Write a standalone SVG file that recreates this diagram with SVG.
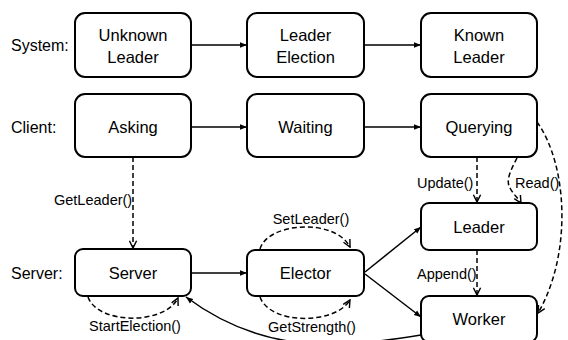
<svg xmlns="http://www.w3.org/2000/svg" width="568" height="340" viewBox="0 0 568 340">
<style>
.box{fill:#fff;stroke:#000;stroke-width:2}
.t{font-family:"Liberation Sans",Arial,sans-serif;font-size:16.5px;fill:#000}
.side{font-family:"Liberation Sans",Arial,sans-serif;font-size:16px;fill:#000}
.l{font-family:"Liberation Sans",Arial,sans-serif;font-size:14.5px;fill:#000}
.m{text-anchor:middle}
.s{fill:none;stroke:#000;stroke-width:1.5}
.d{fill:none;stroke:#000;stroke-width:1.5;stroke-dasharray:5,3}
</style>
<defs>
<marker id="tri" viewBox="0 0 10 10" refX="10" refY="5" markerWidth="7" markerHeight="7" markerUnits="userSpaceOnUse" orient="auto">
<path d="M0,1 L10,5 L0,9 z" fill="#000"/>
</marker>
<marker id="vee" viewBox="0 0 10 10" refX="9" refY="5" markerWidth="9" markerHeight="9" markerUnits="userSpaceOnUse" orient="auto">
<path d="M1,1 L9,5 L1,9" fill="none" stroke="#000" stroke-width="1.6"/>
</marker>
</defs>
<rect width="568" height="340" fill="#fff"/>
<g id="labels">
<text class="side" x="11" y="51">System:</text>
<text class="side" x="11" y="133">Client:</text>
<text class="side" x="11" y="279">Server:</text>
</g>
<g id="connectors">
<line class="s" x1="191" y1="45" x2="247" y2="45" marker-end="url(#tri)"/>
<line class="s" x1="364" y1="45" x2="421" y2="45" marker-end="url(#tri)"/>
<line class="s" x1="191" y1="127" x2="247" y2="127" marker-end="url(#tri)"/>
<line class="s" x1="364" y1="127" x2="421" y2="127" marker-end="url(#tri)"/>
<line class="s" x1="191" y1="273" x2="247" y2="273" marker-end="url(#tri)"/>
<line class="s" x1="365" y1="272" x2="421" y2="227" marker-end="url(#tri)"/>
<line class="s" x1="365" y1="274" x2="421" y2="317" marker-end="url(#tri)"/>
<path class="s" d="M421,335 C330,350 260,352 186,297" marker-end="url(#tri)"/>
<line class="d" x1="133" y1="157" x2="133" y2="248" marker-end="url(#vee)"/>
<line class="d" x1="477" y1="157" x2="477" y2="202" marker-end="url(#vee)"/>
<path class="d" d="M517,158 C512,168 505,180 510,188 C513,194 518,198 521,203" marker-end="url(#vee)"/>
<line class="d" x1="477" y1="250" x2="477" y2="295" marker-end="url(#vee)"/>
<path class="d" d="M537,122 C568,165 572,255 538,313" marker-end="url(#vee)"/>
<path class="d" d="M260,249 C268,222 335,218 350,247" marker-end="url(#vee)"/>
<path class="d" d="M260,297 C270,325 335,325 350,300" marker-end="url(#vee)"/>
<path class="d" d="M88,297 C98,325 165,325 178,298" marker-end="url(#vee)"/>
<text class="l" x="54" y="205">GetLeader()</text>
<text class="l" x="417" y="188">Update()</text>
<text class="l" x="515" y="188">Read()</text>
<text class="l" x="417" y="279">Append()</text>
<text class="l m" x="311" y="224">SetLeader()</text>
<text class="l m" x="312" y="332">GetStrength()</text>
<text class="l m" x="135" y="331">StartElection()</text>
</g>
<g id="unknown-leader"><rect class="box" x="75" y="13" width="116" height="64" rx="10"/><text class="t m" x="133" y="41">Unknown</text><text class="t m" x="133" y="63">Leader</text></g>
<g id="leader-election"><rect class="box" x="247" y="13" width="117" height="64" rx="10"/><text class="t m" x="305.5" y="41">Leader</text><text class="t m" x="305.5" y="63">Election</text></g>
<g id="known-leader"><rect class="box" x="421" y="13" width="116" height="64" rx="10"/><text class="t m" x="479" y="41">Known</text><text class="t m" x="479" y="63">Leader</text></g>
<g id="asking"><rect class="box" x="75" y="94" width="116" height="63" rx="10"/><text class="t m" x="133" y="133">Asking</text></g>
<g id="waiting"><rect class="box" x="247" y="94" width="117" height="63" rx="10"/><text class="t m" x="305.5" y="133">Waiting</text></g>
<g id="querying"><rect class="box" x="421" y="94" width="116" height="63" rx="10"/><text class="t m" x="479" y="133">Querying</text></g>
<g id="server"><rect class="box" x="75" y="249" width="116" height="47" rx="8"/><text class="t m" x="133" y="279">Server</text></g>
<g id="elector"><rect class="box" x="247" y="250" width="117" height="46" rx="8"/><text class="t m" x="305.5" y="279">Elector</text></g>
<g id="leader"><rect class="box" x="421" y="203" width="116" height="47" rx="8"/><text class="t m" x="479" y="233">Leader</text></g>
<g id="worker"><rect class="box" x="421" y="296" width="116" height="46" rx="8"/><text class="t m" x="479" y="325">Worker</text></g>
</svg>
